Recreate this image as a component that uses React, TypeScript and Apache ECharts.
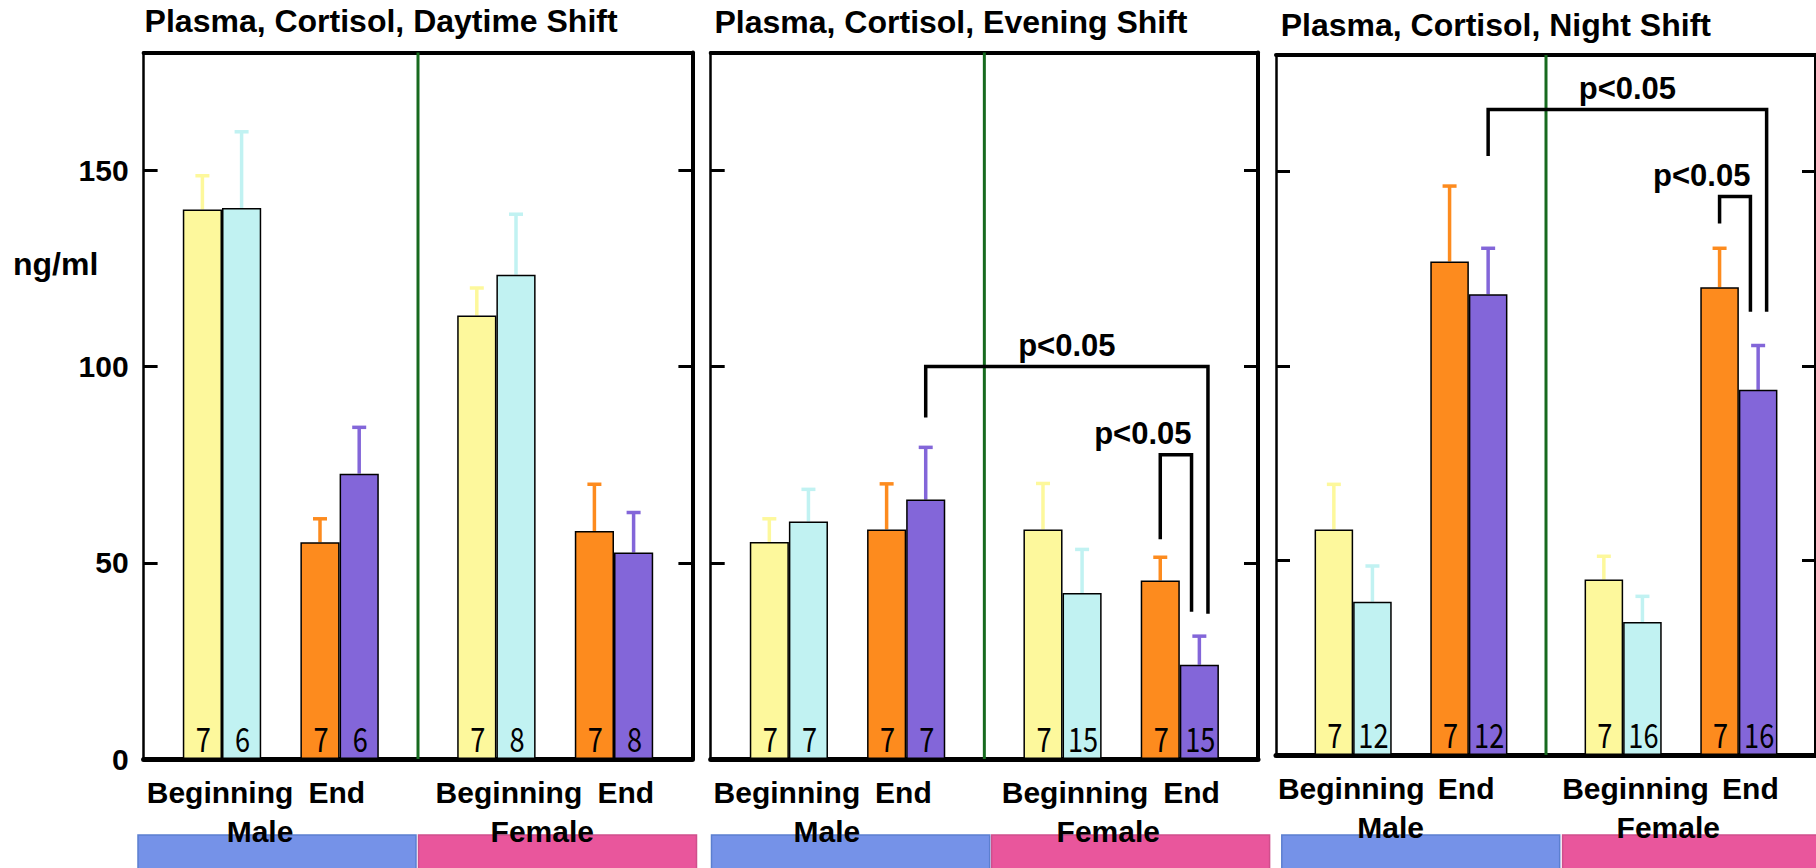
import React, { useEffect, useRef } from 'react';
import * as echarts from 'echarts';

// ---------- data ----------
const shiftTitles = [
  'Plasma, Cortisol, Daytime Shift',
  'Plasma, Cortisol, Evening Shift',
  'Plasma, Cortisol, Night Shift',
];

// Bars in each panel, left to right:
// Male Beginning (A, B), Male End (A, B), Female Beginning (A, B), Female End (A, B)
const dayMeans = [140, 140.4, 55.2, 72.7, 113, 123.4, 58.1, 52.6];
const dayErrors = [8.6, 19.4, 6, 11.8, 7, 15.4, 11.9, 10.2];
const dayN = [7, 6, 7, 6, 7, 8, 7, 8];

const eveningMeans = [55.3, 60.5, 58.5, 66.1, 58.5, 42.3, 45.5, 24];
const eveningErrors = [5.9, 8.2, 11.6, 13.3, 11.7, 11.1, 5.9, 7.3];
const eveningN = [7, 7, 7, 7, 7, 15, 7, 15];

const nightMeans = [58, 39.4, 126.9, 118.5, 45.1, 34.2, 120.3, 93.9];
const nightErrors = [11.6, 9.2, 19.4, 11.8, 6, 6.6, 10, 11.4];
const nightN = [7, 12, 7, 12, 7, 16, 7, 16];

// significance brackets: [from bar, to bar, bracket height, left leg end, right leg end]
const dayBrackets: number[][] = [];
const eveningBrackets = [
  [3, 7, 100, 87, 37],
  [6, 7, 77.5, 56, 37.5],
];
const nightBrackets = [
  [3, 7, 166, 154, 114],
  [6, 7, 143.6, 136.7, 114],
];
const sigText = 'p<0.05';

const timeLabels = ['Beginning', 'End', 'Beginning', 'End'];
const sexLabels = ['Male', 'Female'];
const unitLabel = 'ng/ml';
const Y_MIN = 0;
const Y_MAX = 180;
const Y_STEP = 50;

// ---------- layout ----------
const SLOTS = 14;
const BAR_SLOTS = [1, 2, 4, 5, 8, 9, 11, 12];
const DIVIDER_SLOT = 7;
const TIME_POS = [1.95, 4.93, 9.32, 12.3];
const SEX_POS = [2.97, 10.17];
const GRIDS = [
  { left: 143.6, top: 52.5, width: 548.8, height: 706.5 },
  { left: 710.7, top: 52.5, width: 547.3, height: 706.5 },
  { left: 1276, top: 55, width: 544, height: 700 },
];
const TITLE_POS = [
  [144.6, 21],
  [714.5, 21.5],
  [1280.7, 24.5],
];
const BLOCKS = [
  { x: 138, w: 278, c: 0 },
  { x: 418.5, w: 278, c: 1 },
  { x: 711.5, w: 278.2, c: 0 },
  { x: 991.6, w: 278, c: 1 },
  { x: 1281.8, w: 277.9, c: 0 },
  { x: 1562.6, w: 280, c: 1 },
];
const BLOCK_FILL = ['#7592e8', '#e9569c'];
const BLOCK_EDGE = ['#5b7fcf', '#cf4f8c'];
const BAR_COLORS = ['#fdf89c', '#c1f2f2', '#fd8b1e', '#8366d9'];
const DIVIDER_COLOR = '#176a1f';
const SANS = '"Liberation Sans", Arial, sans-serif';
const BOLD30 = `bold 30px ${SANS}`;
const COUNT_FONT = '34px "Noto Sans CJK JP", sans-serif';

const panels = [
  { means: dayMeans, errors: dayErrors, ns: dayN, brackets: dayBrackets },
  { means: eveningMeans, errors: eveningErrors, ns: eveningN, brackets: eveningBrackets },
  { means: nightMeans, errors: nightErrors, ns: nightN, brackets: nightBrackets },
];

function buildOption() {
  const slotNames = Array.from({ length: SLOTS }, (_, i) => String(i));
  const grid: any[] = [];
  const xAxis: any[] = [];
  const yAxis: any[] = [];
  const series: any[] = [];

  panels.forEach((panel, p) => {
    grid.push({ ...GRIDS[p], show: false, containLabel: false });

    // bottom axis (thick baseline) and top frame line
    xAxis.push({
      gridIndex: p,
      type: 'category',
      data: slotNames,
      position: 'bottom',
      axisLine: { show: true, onZero: false, lineStyle: { color: '#000', width: 5 } },
      axisTick: { show: false },
      axisLabel: { show: false },
      splitLine: { show: false },
    });
    xAxis.push({
      gridIndex: p,
      type: 'category',
      data: slotNames,
      position: 'top',
      axisLine: { show: true, onZero: false, lineStyle: { color: '#000', width: 4 } },
      axisTick: { show: false },
      axisLabel: { show: false },
      splitLine: { show: false },
    });

    const yCommon = {
      gridIndex: p,
      type: 'value',
      min: Y_MIN,
      max: Y_MAX,
      interval: Y_STEP,
      splitLine: { show: false },
      axisTick: { show: true, inside: true, length: 14, lineStyle: { color: '#000', width: 3 } },
    };
    yAxis.push({
      ...yCommon,
      position: 'left',
      axisLine: { show: true, onZero: false, lineStyle: { color: '#000', width: 2.5 } },
      axisLabel: {
        show: p === 0,
        showMaxLabel: false,
        margin: 15,
        color: '#000',
        fontSize: 30,
        fontWeight: 'bold',
        fontFamily: SANS,
      },
    });
    yAxis.push({
      ...yCommon,
      position: 'right',
      axisLine: { show: true, onZero: false, lineStyle: { color: '#000', width: 4 } },
      axisLabel: { show: false },
    });

    const xi = p * 2;
    const yi = p * 2;

    // error bars (drawn beneath the bars so the bar outline stays on top)
    series.push({
      type: 'custom',
      xAxisIndex: xi,
      yAxisIndex: yi,
      z: 2,
      encode: { x: 0, y: 2 },
      data: panel.means.map((m, b) => [BAR_SLOTS[b], m, m + panel.errors[b], b % 4]),
      renderItem: (params: any, api: any) => {
        const slot = api.value(0);
        const base = api.coord([slot, api.value(1)]);
        const top = api.coord([slot, api.value(2)]);
        const color = BAR_COLORS[api.value(3)];
        const half = 7;
        return {
          type: 'group',
          children: [
            {
              type: 'line',
              shape: { x1: base[0], y1: base[1], x2: top[0], y2: top[1] },
              style: { stroke: color, lineWidth: 3.5 },
            },
            {
              type: 'line',
              shape: { x1: top[0] - half, y1: top[1], x2: top[0] + half, y2: top[1] },
              style: { stroke: color, lineWidth: 3.5 },
            },
          ],
        };
      },
    });

    // bars, one series per colour
    for (let k = 0; k < 4; k++) {
      const data: any[] = Array(SLOTS).fill('-');
      panel.means.forEach((m, b) => {
        if (b % 4 === k) data[BAR_SLOTS[b]] = m;
      });
      series.push({
        type: 'bar',
        xAxisIndex: xi,
        yAxisIndex: yi,
        z: 3,
        data,
        barWidth: '100%',
        barGap: '-100%',
        itemStyle: { color: BAR_COLORS[k], borderColor: '#000', borderWidth: 1.5 },
      });
    }

    // group sizes written at the foot of each bar (narrow, tall digits)
    series.push({
      type: 'custom',
      xAxisIndex: xi,
      yAxisIndex: yi,
      z: 6,
      encode: { x: 0, y: 1 },
      data: panel.ns.map((n, b) => [BAR_SLOTS[b], 0, n]),
      renderItem: (params: any, api: any) => {
        const pt = api.coord([api.value(0), 0]);
        return {
          type: 'text',
          x: pt[0] + 1,
          y: pt[1] - 5,
          scaleX: 0.8,
          style: {
            text: String(api.value(2)),
            font: COUNT_FONT,
            fill: '#000',
            align: 'center',
            verticalAlign: 'bottom',
          },
        };
      },
    });

    // divider between sexes and the category captions
    series.push({
      type: 'custom',
      xAxisIndex: xi,
      yAxisIndex: yi,
      z: 4,
      clip: false,
      data: [[0, 0]],
      renderItem: (params: any, api: any) => {
        const band = api.size([1, 0])[0];
        const origin = api.coord([0, Y_MIN]);
        const x0 = origin[0] - band / 2;
        const yBase = origin[1];
        const yTop = api.coord([0, Y_MAX])[1];
        const xDiv = x0 + DIVIDER_SLOT * band;
        const children: any[] = [
          {
            type: 'line',
            shape: { x1: xDiv, y1: yTop, x2: xDiv, y2: yBase },
            style: { stroke: DIVIDER_COLOR, lineWidth: 3 },
          },
        ];
        timeLabels.forEach((t, i) => {
          children.push({
            type: 'text',
            x: x0 + TIME_POS[i] * band,
            y: yBase + 33,
            style: { text: t, font: BOLD30, fill: '#000', align: 'center', verticalAlign: 'middle' },
          });
        });
        sexLabels.forEach((t, i) => {
          children.push({
            type: 'text',
            x: x0 + SEX_POS[i] * band,
            y: yBase + 72.5,
            z2: 10,
            style: { text: t, font: BOLD30, fill: '#000', align: 'center', verticalAlign: 'middle' },
          });
        });
        return { type: 'group', children };
      },
    });

    // significance brackets
    if (panel.brackets.length) {
      series.push({
        type: 'custom',
        xAxisIndex: xi,
        yAxisIndex: yi,
        z: 5,
        clip: false,
        encode: { x: 0, y: 2 },
        data: panel.brackets.map((br) => [BAR_SLOTS[br[0]], BAR_SLOTS[br[1]], br[2], br[3], br[4]]),
        renderItem: (params: any, api: any) => {
          const band = api.size([1, 0])[0];
          const a = api.value(0);
          const b = api.value(1);
          const wide = b - a > 1;
          const xl = api.coord([a, 0])[0];
          const xr = api.coord([b, 0])[0] + (wide ? 0.22 : -0.2) * band;
          const yTop = api.coord([a, api.value(2)])[1];
          const yl = api.coord([a, api.value(3)])[1];
          const yr = api.coord([b, api.value(4)])[1];
          return {
            type: 'group',
            children: [
              {
                type: 'polyline',
                shape: { points: [[xl, yl], [xl, yTop], [xr, yTop], [xr, yr]] },
                style: { stroke: '#000', lineWidth: 3.5, fill: 'none' },
              },
              {
                type: 'text',
                x: wide ? (xl + xr) / 2 : xr,
                y: yTop - 21,
                style: {
                  text: sigText,
                  font: `bold 31px ${SANS}`,
                  fill: '#000',
                  align: wide ? 'center' : 'right',
                  verticalAlign: 'middle',
                },
              },
            ],
          };
        },
      });
    }
  });

  const graphic: any[] = [];
  BLOCKS.forEach((bk) => {
    graphic.push({
      type: 'rect',
      z: -1,
      shape: { x: bk.x, y: 835, width: bk.w, height: 45 },
      style: { fill: BLOCK_FILL[bk.c], stroke: BLOCK_EDGE[bk.c], lineWidth: 1.5 },
    });
  });
  shiftTitles.forEach((t, i) => {
    graphic.push({
      type: 'text',
      x: TITLE_POS[i][0],
      y: TITLE_POS[i][1],
      style: { text: t, font: `bold 32px ${SANS}`, fill: '#000', align: 'left', verticalAlign: 'middle' },
    });
  });
  graphic.push({
    type: 'text',
    x: 13,
    y: 264,
    style: { text: unitLabel, font: `bold 32px ${SANS}`, fill: '#000', align: 'left', verticalAlign: 'middle' },
  });

  return {
    animation: false,
    backgroundColor: '#fff',
    grid,
    xAxis,
    yAxis,
    series,
    graphic,
  };
}

export default function App() {
  const ref = useRef<HTMLDivElement>(null);
  useEffect(() => {
    if (!ref.current) return;
    const chart = echarts.init(ref.current, undefined, { renderer: 'svg' });
    chart.setOption(buildOption() as any);
    return () => chart.dispose();
  }, []);
  return (
    <div
      ref={ref}
      style={{ position: 'fixed', left: 0, top: 0, width: '1816px', height: '868px', background: '#fff' }}
    />
  );
}
